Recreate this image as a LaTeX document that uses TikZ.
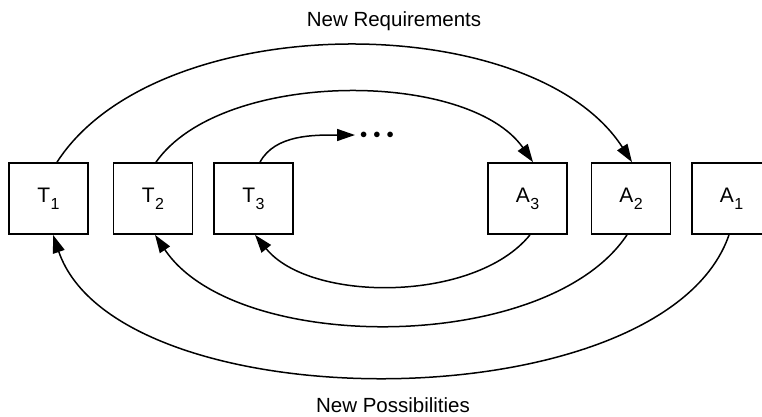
\documentclass[tikz,border=0pt]{standalone}
\usepackage{fontspec}
\setmainfont{Liberation Sans}
\usetikzlibrary{arrows.meta}
\newcommand\boxlbl[2]{#1\kern0.5pt\raisebox{-7pt}{\fontsize{16}{16}\selectfont #2}}
\begin{document}
\begin{tikzpicture}[x=1pt,y=-1pt,
 box/.style={draw,line width=1.7pt,minimum width=79pt,minimum height=71pt,inner sep=0pt,font=\fontsize{21}{24}\selectfont},
 flow/.style={line width=1.5pt,-{Triangle[length=18pt,width=12pt]}},
 lab/.style={font=\fontsize{20.5}{24}\selectfont,anchor=base,inner sep=0pt}]
\useasboundingbox (0,0) rectangle (762,416);
\clip (0,0) rectangle (762,416);
\node[box] (T1) at (48.5,198.5) {\boxlbl{T}{1}};
\node[box] (T2) at (153,198.5) {\boxlbl{T}{2}};
\node[box] (T3) at (253.5,198.5) {\boxlbl{T}{3}};
\node[box] (A3) at (527.5,198.5) {\boxlbl{A}{3}};
\node[box] (A2) at (631,198.5) {\boxlbl{A}{2}};
\node[box] (A1) at (731.5,198.5) {\boxlbl{A}{1}};
\node[lab] (req) at (394,26.5) {New Requirements};
\node[lab] (pos) at (393,412) {New Possibilities};
\node[inner sep=0pt,anchor=west,font=\fontsize{15}{15}\selectfont] (dots) at (355,135) {\kern5pt$\bullet$\kern6pt$\bullet$\kern6pt$\bullet$};
\draw[flow] ([xshift=8.5pt]T1.north) .. controls +(100,-155) and +(-100,-155) .. ([xshift=1pt]A2.north);
\draw[flow] ([xshift=3pt]T2.north) .. controls +(65,-93) and +(-65,-93) .. ([xshift=5.5pt]A3.north);
\draw[flow] ([xshift=6.5pt]T3.north) .. controls +(15,-28) and +(-40,0) .. (dots.west);
\draw[flow] ([xshift=-2.5pt]A1.south) .. controls +(-65,189) and +(65,189) .. ([xshift=4.5pt]T1.south);
\draw[flow] ([xshift=-4pt]A2.south) .. controls +(-80,120) and +(80,120) .. ([xshift=2pt]T2.south);
\draw[flow] ([xshift=2.5pt]A3.south) .. controls +(-55,68) and +(55,68) .. ([xshift=1.5pt]T3.south);
\end{tikzpicture}
\end{document}
